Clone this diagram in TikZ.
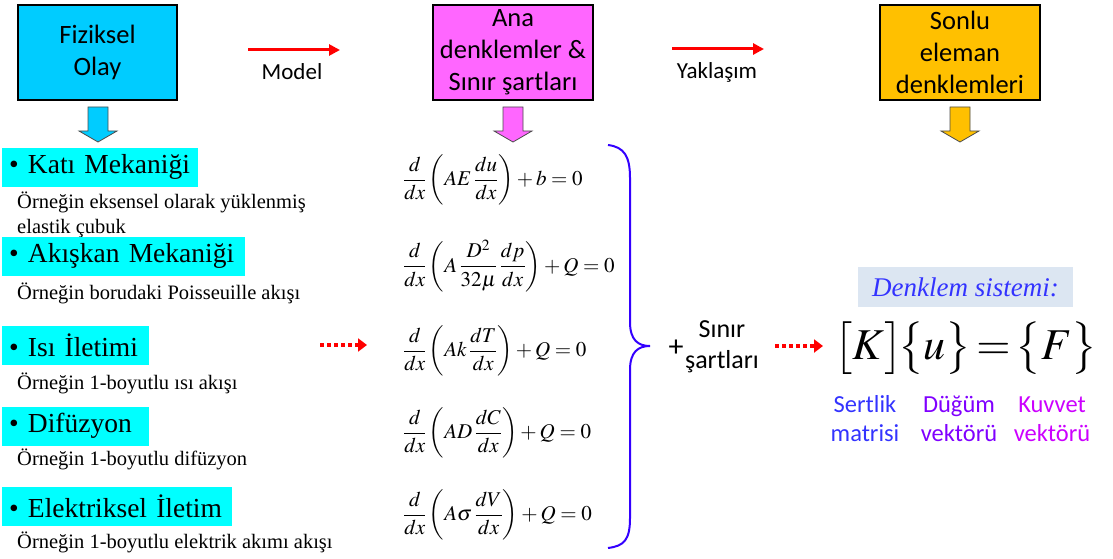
\documentclass[tikz,border=0pt]{standalone}
\usepackage{amsmath}
\usepackage{mathptmx}
\usepackage{fontspec}
\setmainfont{Liberation Serif}
\newfontfamily\calibri{Carlito}
\usetikzlibrary{positioning,arrows.meta}
\usepackage{xcolor}
\definecolor{fizcyan}{RGB}{0,204,255}
\definecolor{anapink}{RGB}{255,102,255}
\definecolor{sonorange}{RGB}{255,192,0}
\definecolor{itemcyan}{RGB}{0,255,255}
\definecolor{braceblue}{RGB}{51,0,255}
\definecolor{sysbg}{RGB}{220,230,242}
\definecolor{sertblue}{RGB}{51,51,255}
\definecolor{dugviolet}{RGB}{128,0,255}
\definecolor{kuvmag}{RGB}{204,0,255}

\tikzset{
  topbox/.style={draw=black, line width=1.5pt, minimum width=159, minimum height=95,
    inner sep=0, align=center, font=\calibri\fontsize{26.5}{32}\selectfont},
  redarrow/.style={red, line width=3pt, -{Triangle[length=11pt,width=11pt]}},
  dotarrow/.style={red, line width=4pt, dash pattern=on 4pt off 3pt,
    -{Triangle[length=9pt,width=13pt]}},
  arrowlbl/.style={font=\calibri\fontsize{23}{28}\selectfont},
  item/.style={fill=itemcyan, anchor=west, minimum height=39, inner xsep=7, inner ysep=0,
    align=left, text width=#1, font=\fontsize{27.5}{30}\selectfont},
  example/.style={anchor=west, inner sep=0, align=left, font=\fontsize{20.5}{24.5}\selectfont},
  eqn/.style={anchor=west, inner sep=0, font=\fontsize{21}{25}\selectfont},
  vectorlbl/.style={align=center, font=\calibri\fontsize{24.5}{29}\selectfont},
  blockdown/.pic={\path[pic actions] (-10,0) -- (10,0) -- (10,24) -- (19,24) -- (0,35)
    -- (-19,24) -- (-10,24) -- cycle;}
}

\begin{document}
\begin{tikzpicture}[x=1pt,y=-1pt]
\useasboundingbox (0,0) rectangle (1113,559);

% top row
\node[topbox, fill=fizcyan] (fiz) at (97.5,52.5) {Fiziksel\\Olay};
\node[topbox, fill=anapink, minimum width=160] (ana) at (513,52.5) {Ana\\denklemler \&\\Sınır şartları};
\node[topbox, fill=sonorange, minimum width=160] (son) at (960,52.5) {Sonlu\\eleman\\denklemleri};

\coordinate (model1) at (248,50);
\coordinate (model2) at (340,50);
\draw[redarrow] (model1) -- (model2);
\node[arrowlbl] (model) at (292,72) {Model};
\coordinate (yak1) at (672,49);
\coordinate (yak2) at (764,49);
\draw[redarrow] (yak1) -- (yak2);
\node[arrowlbl] (yak) at (717,72) {Yaklaşım};

\pic[draw=black!70, line width=0.8pt, fill=fizcyan] at (98,107) {blockdown};
\pic[draw=black!70, line width=0.8pt, fill=anapink] at (513,107) {blockdown};
\pic[draw=black!70, line width=0.8pt, fill=sonorange] at (960,107) {blockdown};

% physical problems
\node[item=182pt] (kati) at (2,167) {\textbullet\ Katı Mekaniği};
\node[example] (katiex) at (17,215) {Örneğin eksensel olarak yüklenmiş\\elastik çubuk};
\node[item=229pt] (akis) at (2,256) {\textbullet\ Akışkan Mekaniği};
\node[example] (akisex) at (17,293) {Örneğin borudaki Poisseuille akışı};
\node[item=133pt] (isi) at (2,345.5) {\textbullet\ Isı İletimi};
\node[example] (isiex) at (17,383) {Örneğin 1-boyutlu ısı akışı};
\node[item=133pt] (dif) at (2,426) {\textbullet\ Difüzyon};
\node[example] (difex) at (17,459) {Örneğin 1-boyutlu difüzyon};
\node[item=216pt] (elek) at (2,506) {\textbullet\ Elektriksel İletim};
\node[example] (elekex) at (17,542) {Örneğin 1-boyutlu elektrik akımı akışı};

\coordinate (dot1a) at (320,345);
\coordinate (dot1b) at (367,345);
\draw[dotarrow] (dot1a) -- (dot1b);

% governing equations
\node[eqn] (eq1) at (403,180) {$\displaystyle \frac{d}{dx}\left(AE\,\frac{du}{dx}\right)+b=0$};
\node[eqn] (eq2) at (403,266) {$\displaystyle \frac{d}{dx}\left(A\,\frac{D^2}{32\mu}\,\frac{dp}{dx}\right)+Q=0$};
\node[eqn] (eq3) at (403,351) {$\displaystyle \frac{d}{dx}\left(Ak\,\frac{dT}{dx}\right)+Q=0$};
\node[eqn] (eq4) at (403,433) {$\displaystyle \frac{d}{dx}\left(AD\,\frac{dC}{dx}\right)+Q=0$};
\node[eqn] (eq5) at (403,515) {$\displaystyle \frac{d}{dx}\left(A\sigma\,\frac{dV}{dx}\right)+Q=0$};

% brace
\draw[braceblue, line width=2pt] (608,145) .. controls (624,147) and (630,156) .. (630,178)
  -- (630,322) .. controls (630,340) and (638,346) .. (650,346)
  .. controls (638,346) and (630,352) .. (630,370)
  -- (630,518) .. controls (630,540) and (624,546) .. (608,548);

\node[font=\calibri\fontsize{30}{30}\selectfont] (plus) at (676,348) {+};
\node[align=center, font=\calibri\fontsize{26}{31}\selectfont] (sinir) at (722,347) {Sınır\\şartları};

\coordinate (dot2a) at (775,346);
\coordinate (dot2b) at (823,346);
\draw[dotarrow] (dot2a) -- (dot2b);

% system of equations
\node[fill=sysbg, minimum width=215, minimum height=40, inner sep=0,
  font=\fontsize{27}{30}\selectfont\itshape, text=sertblue] (sys) at (965.5,287) {Denklem sistemi:};
\node[inner sep=0, font=\fontsize{44}{50}\selectfont] (kuf) at (966,348)
  {$\bigl[K\bigr]\!\bigl\{u\bigr\}\!=\!\bigl\{F\bigr\}$};
\node[vectorlbl, text=sertblue] (sert) at (865,419) {Sertlik\\matrisi};
\node[vectorlbl, text=dugviolet] (dug) at (959,419) {Düğüm\\vektörü};
\node[vectorlbl, text=kuvmag] (kuv) at (1052,419) {Kuvvet\\vektörü};
\end{tikzpicture}
\end{document}
